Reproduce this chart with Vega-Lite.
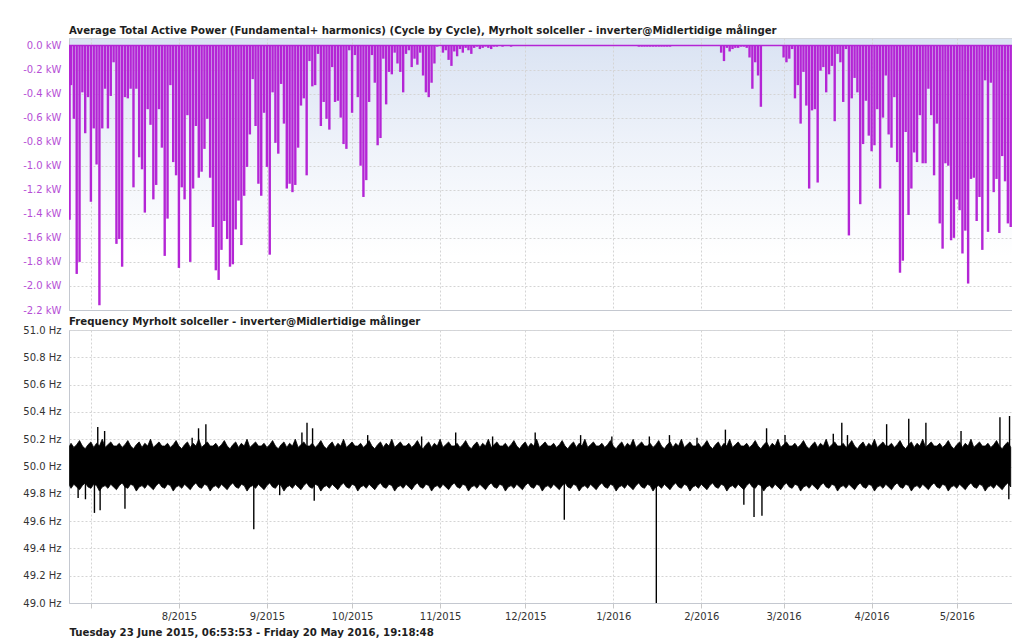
{
"$schema": "https://vega.github.io/schema/vega-lite/v6.json",
"background": "white",
"padding": {"left": 22, "top": 25, "right": 0, "bottom": 2},
"spacing": 0,
"config": {
 "font": "DejaVu Sans",
 "view": {"stroke": "#d3d6dc"},
 "axis": {"labelFont": "DejaVu Sans", "labelFontSize": 10, "labelColor": "#333333", "gridColor": "#d4d4d4", "gridDash": [2, 2], "domainColor": "#c4c8d0", "tickColor": "#c8c8c8", "labelOverlap": false, "labelSeparation": 0},
 "title": {"font": "DejaVu Sans", "fontSize": 10.2, "fontWeight": "bold", "anchor": "start", "color": "#1e1e1e", "baseline": "alphabetic", "frame": "group"}
},
"datasets": {
 "day": [
{"d":"2015-06-23T12:00","p":-1.45,"lo":49.86,"hi":50.15},
{"d":"2015-06-24","p":-0.33,"lo":49.84,"hi":50.17},
{"d":"2015-06-25","p":-0.61,"lo":49.87,"hi":50.14},
{"d":"2015-06-26","p":-1.90,"lo":49.85,"hi":50.16},
{"d":"2015-06-27","p":-1.80,"lo":49.83,"hi":50.19},
{"d":"2015-06-28","p":-0.39,"lo":49.86,"hi":50.15},
{"d":"2015-06-29","p":-0.73,"lo":49.88,"hi":50.13},
{"d":"2015-06-30","p":-0.43,"lo":49.85,"hi":50.16},
{"d":"2015-07-01","p":-1.30,"lo":49.84,"hi":50.18},
{"d":"2015-07-02","p":-0.69,"lo":49.87,"hi":50.14},
{"d":"2015-07-03","p":-0.99,"lo":49.86,"hi":50.17},
{"d":"2015-07-04","p":-2.16,"lo":49.82,"hi":50.15},
{"d":"2015-07-05","p":-0.69,"lo":49.85,"hi":50.20},
{"d":"2015-07-06","p":-0.36,"lo":49.86,"hi":50.14},
{"d":"2015-07-07","p":-0.69,"lo":49.84,"hi":50.16},
{"d":"2015-07-08","p":-0.42,"lo":49.87,"hi":50.18},
{"d":"2015-07-09","p":-0.14,"lo":49.85,"hi":50.15},
{"d":"2015-07-10","p":-1.65,"lo":49.83,"hi":50.15},
{"d":"2015-07-11","p":-1.61,"lo":49.86,"hi":50.17},
{"d":"2015-07-12","p":-1.84,"lo":49.88,"hi":50.14},
{"d":"2015-07-13","p":-0.43,"lo":49.85,"hi":50.16},
{"d":"2015-07-14","p":-0.44,"lo":49.84,"hi":50.19},
{"d":"2015-07-15","p":-0.36,"lo":49.87,"hi":50.15},
{"d":"2015-07-16","p":-1.18,"lo":49.86,"hi":50.13},
{"d":"2015-07-17","p":-0.36,"lo":49.82,"hi":50.16},
{"d":"2015-07-18","p":-0.93,"lo":49.85,"hi":50.18},
{"d":"2015-07-19","p":-1.03,"lo":49.86,"hi":50.14},
{"d":"2015-07-20","p":-1.39,"lo":49.84,"hi":50.17},
{"d":"2015-07-21","p":-0.53,"lo":49.87,"hi":50.15},
{"d":"2015-07-22","p":-0.66,"lo":49.85,"hi":50.20},
{"d":"2015-07-23","p":-1.28,"lo":49.83,"hi":50.14},
{"d":"2015-07-24","p":-1.16,"lo":49.86,"hi":50.16},
{"d":"2015-07-25","p":-0.53,"lo":49.88,"hi":50.18},
{"d":"2015-07-26","p":-0.85,"lo":49.85,"hi":50.15},
{"d":"2015-07-27","p":-1.75,"lo":49.84,"hi":50.15},
{"d":"2015-07-28","p":-1.44,"lo":49.87,"hi":50.17},
{"d":"2015-07-29","p":-0.33,"lo":49.86,"hi":50.14},
{"d":"2015-07-30","p":-0.97,"lo":49.82,"hi":50.16},
{"d":"2015-07-31","p":-1.08,"lo":49.85,"hi":50.19},
{"d":"2015-08-01","p":-1.85,"lo":49.86,"hi":50.15},
{"d":"2015-08-02","p":-1.18,"lo":49.84,"hi":50.13},
{"d":"2015-08-03","p":-1.28,"lo":49.87,"hi":50.16},
{"d":"2015-08-04","p":-0.58,"lo":49.85,"hi":50.18},
{"d":"2015-08-05","p":-1.80,"lo":49.83,"hi":50.14},
{"d":"2015-08-06","p":-1.19,"lo":49.86,"hi":50.17},
{"d":"2015-08-07","p":-0.67,"lo":49.88,"hi":50.15},
{"d":"2015-08-08","p":-1.10,"lo":49.85,"hi":50.20},
{"d":"2015-08-09","p":-1.05,"lo":49.84,"hi":50.14},
{"d":"2015-08-10","p":-0.86,"lo":49.87,"hi":50.16},
{"d":"2015-08-11","p":-0.61,"lo":49.86,"hi":50.18},
{"d":"2015-08-12","p":-1.10,"lo":49.82,"hi":50.15},
{"d":"2015-08-13","p":-1.51,"lo":49.85,"hi":50.15},
{"d":"2015-08-14","p":-1.87,"lo":49.86,"hi":50.17},
{"d":"2015-08-15","p":-1.95,"lo":49.84,"hi":50.14},
{"d":"2015-08-16","p":-1.70,"lo":49.87,"hi":50.16},
{"d":"2015-08-17","p":-1.46,"lo":49.85,"hi":50.19},
{"d":"2015-08-18","p":-1.61,"lo":49.83,"hi":50.15},
{"d":"2015-08-19","p":-1.84,"lo":49.86,"hi":50.13},
{"d":"2015-08-20","p":-1.82,"lo":49.88,"hi":50.16},
{"d":"2015-08-21","p":-1.53,"lo":49.85,"hi":50.18},
{"d":"2015-08-22","p":-1.29,"lo":49.84,"hi":50.14},
{"d":"2015-08-23","p":-1.66,"lo":49.87,"hi":50.17},
{"d":"2015-08-24","p":-1.25,"lo":49.86,"hi":50.15},
{"d":"2015-08-25","p":-1.01,"lo":49.82,"hi":50.20},
{"d":"2015-08-26","p":-0.74,"lo":49.85,"hi":50.14},
{"d":"2015-08-27","p":-0.28,"lo":49.86,"hi":50.16},
{"d":"2015-08-28","p":-0.67,"lo":49.84,"hi":50.18},
{"d":"2015-08-29","p":-1.15,"lo":49.87,"hi":50.15},
{"d":"2015-08-30","p":-1.25,"lo":49.85,"hi":50.15},
{"d":"2015-08-31","p":-0.56,"lo":49.83,"hi":50.17},
{"d":"2015-09-01","p":-1.01,"lo":49.86,"hi":50.14},
{"d":"2015-09-02","p":-1.74,"lo":49.88,"hi":50.16},
{"d":"2015-09-03","p":-0.39,"lo":49.85,"hi":50.19},
{"d":"2015-09-04","p":-0.81,"lo":49.84,"hi":50.15},
{"d":"2015-09-05","p":-0.90,"lo":49.87,"hi":50.13},
{"d":"2015-09-06","p":-0.32,"lo":49.86,"hi":50.16},
{"d":"2015-09-07","p":-0.65,"lo":49.82,"hi":50.18},
{"d":"2015-09-08","p":-1.19,"lo":49.85,"hi":50.14},
{"d":"2015-09-09","p":-1.15,"lo":49.86,"hi":50.17},
{"d":"2015-09-10","p":-1.22,"lo":49.84,"hi":50.15},
{"d":"2015-09-11","p":-1.16,"lo":49.87,"hi":50.20},
{"d":"2015-09-12","p":-0.85,"lo":49.85,"hi":50.14},
{"d":"2015-09-13","p":-0.50,"lo":49.83,"hi":50.16},
{"d":"2015-09-14","p":-0.44,"lo":49.86,"hi":50.18},
{"d":"2015-09-15","p":-1.08,"lo":49.88,"hi":50.15},
{"d":"2015-09-16","p":-0.13,"lo":49.85,"hi":50.15},
{"d":"2015-09-17","p":-0.34,"lo":49.84,"hi":50.17},
{"d":"2015-09-18","p":-0.33,"lo":49.87,"hi":50.14},
{"d":"2015-09-19","p":-0.07,"lo":49.86,"hi":50.16},
{"d":"2015-09-20","p":-0.67,"lo":49.82,"hi":50.19},
{"d":"2015-09-21","p":-0.47,"lo":49.85,"hi":50.15},
{"d":"2015-09-22","p":-0.61,"lo":49.86,"hi":50.13},
{"d":"2015-09-23","p":-0.70,"lo":49.84,"hi":50.16},
{"d":"2015-09-24","p":-0.18,"lo":49.87,"hi":50.18},
{"d":"2015-09-25","p":-0.47,"lo":49.85,"hi":50.14},
{"d":"2015-09-26","p":-0.46,"lo":49.83,"hi":50.17},
{"d":"2015-09-27","p":-0.60,"lo":49.86,"hi":50.15},
{"d":"2015-09-28","p":-0.82,"lo":49.88,"hi":50.20},
{"d":"2015-09-29","p":-0.86,"lo":49.85,"hi":50.14},
{"d":"2015-09-30","p":-0.04,"lo":49.84,"hi":50.16},
{"d":"2015-10-01","p":-0.56,"lo":49.87,"hi":50.18},
{"d":"2015-10-02","p":-0.08,"lo":49.86,"hi":50.15},
{"d":"2015-10-03","p":-0.43,"lo":49.82,"hi":50.15},
{"d":"2015-10-04","p":-1.00,"lo":49.85,"hi":50.17},
{"d":"2015-10-05","p":-1.26,"lo":49.86,"hi":50.14},
{"d":"2015-10-06","p":-1.12,"lo":49.84,"hi":50.16},
{"d":"2015-10-07","p":-0.47,"lo":49.87,"hi":50.19},
{"d":"2015-10-08","p":-0.08,"lo":49.85,"hi":50.15},
{"d":"2015-10-09","p":-0.31,"lo":49.83,"hi":50.13},
{"d":"2015-10-10","p":-0.83,"lo":49.86,"hi":50.16},
{"d":"2015-10-11","p":-0.77,"lo":49.88,"hi":50.18},
{"d":"2015-10-12","p":-0.11,"lo":49.85,"hi":50.14},
{"d":"2015-10-13","p":-0.49,"lo":49.84,"hi":50.17},
{"d":"2015-10-14","p":-0.22,"lo":49.87,"hi":50.15},
{"d":"2015-10-15","p":-0.24,"lo":49.86,"hi":50.20},
{"d":"2015-10-16","p":-0.06,"lo":49.82,"hi":50.14},
{"d":"2015-10-17","p":-0.15,"lo":49.85,"hi":50.16},
{"d":"2015-10-18","p":-0.22,"lo":49.86,"hi":50.18},
{"d":"2015-10-19","p":-0.39,"lo":49.84,"hi":50.15},
{"d":"2015-10-20","p":-0.07,"lo":49.87,"hi":50.15},
{"d":"2015-10-21","p":-0.04,"lo":49.85,"hi":50.17},
{"d":"2015-10-22","p":-0.18,"lo":49.83,"hi":50.14},
{"d":"2015-10-23","p":-0.11,"lo":49.86,"hi":50.16},
{"d":"2015-10-24","p":-0.16,"lo":49.88,"hi":50.19},
{"d":"2015-10-25","p":-0.06,"lo":49.85,"hi":50.15},
{"d":"2015-10-26","p":-0.25,"lo":49.84,"hi":50.13},
{"d":"2015-10-27","p":-0.39,"lo":49.87,"hi":50.16},
{"d":"2015-10-28","p":-0.43,"lo":49.86,"hi":50.18},
{"d":"2015-10-29","p":-0.31,"lo":49.82,"hi":50.14},
{"d":"2015-10-30","p":-0.15,"lo":49.85,"hi":50.17},
{"d":"2015-10-31","p":-0.01,"lo":49.86,"hi":50.15},
{"d":"2015-11-01","p":0,"lo":49.84,"hi":50.20},
{"d":"2015-11-02","p":-0.06,"lo":49.87,"hi":50.14},
{"d":"2015-11-03","p":-0.04,"lo":49.85,"hi":50.16},
{"d":"2015-11-04","p":-0.12,"lo":49.83,"hi":50.18},
{"d":"2015-11-05","p":-0.17,"lo":49.86,"hi":50.15},
{"d":"2015-11-06","p":-0.05,"lo":49.88,"hi":50.15},
{"d":"2015-11-07","p":-0.09,"lo":49.85,"hi":50.17},
{"d":"2015-11-08","p":-0.03,"lo":49.84,"hi":50.14},
{"d":"2015-11-09","p":-0.06,"lo":49.87,"hi":50.16},
{"d":"2015-11-10","p":-0.02,"lo":49.86,"hi":50.19},
{"d":"2015-11-11","p":-0.04,"lo":49.82,"hi":50.15},
{"d":"2015-11-12","p":-0.07,"lo":49.85,"hi":50.13},
{"d":"2015-11-13","p":-0.02,"lo":49.86,"hi":50.16},
{"d":"2015-11-14","p":-0.01,"lo":49.84,"hi":50.18},
{"d":"2015-11-15","p":-0.03,"lo":49.87,"hi":50.14},
{"d":"2015-11-16","p":-0.02,"lo":49.85,"hi":50.17},
{"d":"2015-11-17","p":-0.01,"lo":49.83,"hi":50.15},
{"d":"2015-11-18","p":-0.02,"lo":49.86,"hi":50.20},
{"d":"2015-11-19","p":-0.03,"lo":49.88,"hi":50.14},
{"d":"2015-11-20","p":-0.01,"lo":49.85,"hi":50.16},
{"d":"2015-11-21","p":-0.01,"lo":49.84,"hi":50.18},
{"d":"2015-11-22","p":0,"lo":49.87,"hi":50.15},
{"d":"2015-11-23","p":-0.01,"lo":49.86,"hi":50.15},
{"d":"2015-11-24","p":0,"lo":49.82,"hi":50.17},
{"d":"2015-11-25","p":0,"lo":49.85,"hi":50.14},
{"d":"2015-11-26","p":-0.01,"lo":49.86,"hi":50.16},
{"d":"2015-11-27","p":0,"lo":49.84,"hi":50.19},
{"d":"2015-11-28","p":0,"lo":49.87,"hi":50.15},
{"d":"2015-11-29","p":0,"lo":49.85,"hi":50.13},
{"d":"2015-11-30","p":0,"lo":49.83,"hi":50.16},
{"d":"2015-12-01","p":0,"lo":49.86,"hi":50.18},
{"d":"2015-12-02","p":0,"lo":49.88,"hi":50.14},
{"d":"2015-12-03","p":0,"lo":49.85,"hi":50.17},
{"d":"2015-12-04","p":0,"lo":49.84,"hi":50.15},
{"d":"2015-12-05","p":0,"lo":49.87,"hi":50.20},
{"d":"2015-12-06","p":0,"lo":49.86,"hi":50.14},
{"d":"2015-12-07","p":0,"lo":49.82,"hi":50.16},
{"d":"2015-12-08","p":0,"lo":49.85,"hi":50.18},
{"d":"2015-12-09","p":0,"lo":49.86,"hi":50.15},
{"d":"2015-12-10","p":0,"lo":49.84,"hi":50.15},
{"d":"2015-12-11","p":0,"lo":49.87,"hi":50.17},
{"d":"2015-12-12","p":0,"lo":49.85,"hi":50.14},
{"d":"2015-12-13","p":0,"lo":49.83,"hi":50.16},
{"d":"2015-12-14","p":0,"lo":49.86,"hi":50.19},
{"d":"2015-12-15","p":0,"lo":49.88,"hi":50.15},
{"d":"2015-12-16","p":0,"lo":49.85,"hi":50.13},
{"d":"2015-12-17","p":0,"lo":49.84,"hi":50.16},
{"d":"2015-12-18","p":0,"lo":49.87,"hi":50.18},
{"d":"2015-12-19","p":0,"lo":49.86,"hi":50.14},
{"d":"2015-12-20","p":0,"lo":49.82,"hi":50.17},
{"d":"2015-12-21","p":0,"lo":49.85,"hi":50.15},
{"d":"2015-12-22","p":0,"lo":49.86,"hi":50.20},
{"d":"2015-12-23","p":0,"lo":49.84,"hi":50.14},
{"d":"2015-12-24","p":0,"lo":49.87,"hi":50.16},
{"d":"2015-12-25","p":0,"lo":49.85,"hi":50.18},
{"d":"2015-12-26","p":0,"lo":49.83,"hi":50.15},
{"d":"2015-12-27","p":0,"lo":49.86,"hi":50.15},
{"d":"2015-12-28","p":0,"lo":49.88,"hi":50.17},
{"d":"2015-12-29","p":0,"lo":49.85,"hi":50.14},
{"d":"2015-12-30","p":0,"lo":49.84,"hi":50.16},
{"d":"2015-12-31","p":0,"lo":49.87,"hi":50.19},
{"d":"2016-01-01","p":0,"lo":49.86,"hi":50.15},
{"d":"2016-01-02","p":0,"lo":49.82,"hi":50.13},
{"d":"2016-01-03","p":0,"lo":49.85,"hi":50.16},
{"d":"2016-01-04","p":0,"lo":49.86,"hi":50.18},
{"d":"2016-01-05","p":0,"lo":49.84,"hi":50.14},
{"d":"2016-01-06","p":0,"lo":49.87,"hi":50.17},
{"d":"2016-01-07","p":0,"lo":49.85,"hi":50.15},
{"d":"2016-01-08","p":0,"lo":49.83,"hi":50.20},
{"d":"2016-01-09","p":0,"lo":49.86,"hi":50.14},
{"d":"2016-01-10","p":-0.01,"lo":49.88,"hi":50.16},
{"d":"2016-01-11","p":-0.01,"lo":49.85,"hi":50.18},
{"d":"2016-01-12","p":-0.01,"lo":49.84,"hi":50.15},
{"d":"2016-01-13","p":-0.01,"lo":49.87,"hi":50.15},
{"d":"2016-01-14","p":-0.01,"lo":49.86,"hi":50.17},
{"d":"2016-01-15","p":-0.01,"lo":49.82,"hi":50.14},
{"d":"2016-01-16","p":-0.01,"lo":49.85,"hi":50.16},
{"d":"2016-01-17","p":-0.01,"lo":49.86,"hi":50.19},
{"d":"2016-01-18","p":-0.01,"lo":49.84,"hi":50.15},
{"d":"2016-01-19","p":-0.01,"lo":49.87,"hi":50.13},
{"d":"2016-01-20","p":-0.01,"lo":49.85,"hi":50.16},
{"d":"2016-01-21","p":-0.01,"lo":49.83,"hi":50.18},
{"d":"2016-01-22","p":0,"lo":49.86,"hi":50.14},
{"d":"2016-01-23","p":0,"lo":49.88,"hi":50.17},
{"d":"2016-01-24","p":0,"lo":49.85,"hi":50.15},
{"d":"2016-01-25","p":0,"lo":49.84,"hi":50.20},
{"d":"2016-01-26","p":0,"lo":49.87,"hi":50.14},
{"d":"2016-01-27","p":0,"lo":49.86,"hi":50.16},
{"d":"2016-01-28","p":0,"lo":49.82,"hi":50.18},
{"d":"2016-01-29","p":0,"lo":49.85,"hi":50.15},
{"d":"2016-01-30","p":0,"lo":49.86,"hi":50.15},
{"d":"2016-01-31","p":0,"lo":49.84,"hi":50.17},
{"d":"2016-02-01","p":0,"lo":49.87,"hi":50.14},
{"d":"2016-02-02","p":0,"lo":49.85,"hi":50.16},
{"d":"2016-02-03","p":0,"lo":49.83,"hi":50.19},
{"d":"2016-02-04","p":0,"lo":49.86,"hi":50.15},
{"d":"2016-02-05","p":0,"lo":49.88,"hi":50.13},
{"d":"2016-02-06","p":0,"lo":49.85,"hi":50.16},
{"d":"2016-02-07","p":0,"lo":49.84,"hi":50.18},
{"d":"2016-02-08","p":-0.06,"lo":49.87,"hi":50.14},
{"d":"2016-02-09","p":-0.13,"lo":49.86,"hi":50.17},
{"d":"2016-02-10","p":-0.02,"lo":49.82,"hi":50.15},
{"d":"2016-02-11","p":-0.05,"lo":49.85,"hi":50.20},
{"d":"2016-02-12","p":-0.03,"lo":49.86,"hi":50.14},
{"d":"2016-02-13","p":-0.02,"lo":49.84,"hi":50.16},
{"d":"2016-02-14","p":-0.02,"lo":49.87,"hi":50.18},
{"d":"2016-02-15","p":-0.01,"lo":49.85,"hi":50.15},
{"d":"2016-02-16","p":-0.01,"lo":49.83,"hi":50.15},
{"d":"2016-02-17","p":-0.02,"lo":49.86,"hi":50.17},
{"d":"2016-02-18","p":-0.10,"lo":49.88,"hi":50.14},
{"d":"2016-02-19","p":-0.36,"lo":49.85,"hi":50.16},
{"d":"2016-02-20","p":-0.14,"lo":49.84,"hi":50.19},
{"d":"2016-02-21","p":-0.25,"lo":49.87,"hi":50.15},
{"d":"2016-02-22","p":-0.51,"lo":49.86,"hi":50.13},
{"d":"2016-02-23","p":0,"lo":49.82,"hi":50.16},
{"d":"2016-02-24","p":0,"lo":49.85,"hi":50.18},
{"d":"2016-02-25","p":0,"lo":49.86,"hi":50.14},
{"d":"2016-02-26","p":0,"lo":49.84,"hi":50.17},
{"d":"2016-02-27","p":0,"lo":49.87,"hi":50.15},
{"d":"2016-02-28","p":0,"lo":49.85,"hi":50.20},
{"d":"2016-02-29","p":0,"lo":49.83,"hi":50.14},
{"d":"2016-03-01","p":-0.10,"lo":49.86,"hi":50.16},
{"d":"2016-03-02","p":-0.14,"lo":49.88,"hi":50.18},
{"d":"2016-03-03","p":-0.11,"lo":49.85,"hi":50.15},
{"d":"2016-03-04","p":-0.03,"lo":49.84,"hi":50.15},
{"d":"2016-03-05","p":-0.44,"lo":49.87,"hi":50.17},
{"d":"2016-03-06","p":-0.33,"lo":49.86,"hi":50.14},
{"d":"2016-03-07","p":-0.65,"lo":49.82,"hi":50.16},
{"d":"2016-03-08","p":-0.22,"lo":49.85,"hi":50.19},
{"d":"2016-03-09","p":-0.50,"lo":49.86,"hi":50.15},
{"d":"2016-03-10","p":-1.19,"lo":49.84,"hi":50.13},
{"d":"2016-03-11","p":-0.54,"lo":49.87,"hi":50.16},
{"d":"2016-03-12","p":-0.53,"lo":49.85,"hi":50.18},
{"d":"2016-03-13","p":-1.14,"lo":49.83,"hi":50.14},
{"d":"2016-03-14","p":-0.21,"lo":49.86,"hi":50.17},
{"d":"2016-03-15","p":-0.18,"lo":49.88,"hi":50.15},
{"d":"2016-03-16","p":-0.39,"lo":49.85,"hi":50.20},
{"d":"2016-03-17","p":-0.24,"lo":49.84,"hi":50.14},
{"d":"2016-03-18","p":-0.17,"lo":49.87,"hi":50.16},
{"d":"2016-03-19","p":-0.63,"lo":49.86,"hi":50.18},
{"d":"2016-03-20","p":-0.07,"lo":49.82,"hi":50.15},
{"d":"2016-03-21","p":-0.14,"lo":49.85,"hi":50.15},
{"d":"2016-03-22","p":-0.47,"lo":49.86,"hi":50.17},
{"d":"2016-03-23","p":-0.03,"lo":49.84,"hi":50.14},
{"d":"2016-03-24","p":-1.58,"lo":49.87,"hi":50.16},
{"d":"2016-03-25","p":-0.44,"lo":49.85,"hi":50.19},
{"d":"2016-03-26","p":-0.27,"lo":49.83,"hi":50.15},
{"d":"2016-03-27","p":-0.39,"lo":49.86,"hi":50.13},
{"d":"2016-03-28","p":-1.32,"lo":49.88,"hi":50.16},
{"d":"2016-03-29","p":-0.82,"lo":49.85,"hi":50.18},
{"d":"2016-03-30","p":-0.46,"lo":49.84,"hi":50.14},
{"d":"2016-03-31","p":-0.75,"lo":49.87,"hi":50.17},
{"d":"2016-04-01","p":-0.88,"lo":49.86,"hi":50.15},
{"d":"2016-04-02","p":-0.83,"lo":49.82,"hi":50.20},
{"d":"2016-04-03","p":-0.53,"lo":49.85,"hi":50.14},
{"d":"2016-04-04","p":-1.19,"lo":49.86,"hi":50.16},
{"d":"2016-04-05","p":-0.60,"lo":49.84,"hi":50.18},
{"d":"2016-04-06","p":-0.25,"lo":49.87,"hi":50.15},
{"d":"2016-04-07","p":-0.74,"lo":49.85,"hi":50.15},
{"d":"2016-04-08","p":-0.85,"lo":49.83,"hi":50.17},
{"d":"2016-04-09","p":-0.43,"lo":49.86,"hi":50.14},
{"d":"2016-04-10","p":-0.97,"lo":49.88,"hi":50.16},
{"d":"2016-04-11","p":-1.89,"lo":49.85,"hi":50.19},
{"d":"2016-04-12","p":-1.79,"lo":49.84,"hi":50.15},
{"d":"2016-04-13","p":-0.72,"lo":49.87,"hi":50.13},
{"d":"2016-04-14","p":-1.41,"lo":49.86,"hi":50.16},
{"d":"2016-04-15","p":-1.19,"lo":49.82,"hi":50.18},
{"d":"2016-04-16","p":-0.89,"lo":49.85,"hi":50.14},
{"d":"2016-04-17","p":-0.97,"lo":49.86,"hi":50.17},
{"d":"2016-04-18","p":-0.58,"lo":49.84,"hi":50.15},
{"d":"2016-04-19","p":-0.98,"lo":49.87,"hi":50.20},
{"d":"2016-04-20","p":-0.98,"lo":49.85,"hi":50.14},
{"d":"2016-04-21","p":-0.36,"lo":49.83,"hi":50.16},
{"d":"2016-04-22","p":-0.58,"lo":49.86,"hi":50.18},
{"d":"2016-04-23","p":-1.08,"lo":49.88,"hi":50.15},
{"d":"2016-04-24","p":-0.65,"lo":49.85,"hi":50.15},
{"d":"2016-04-25","p":-1.48,"lo":49.84,"hi":50.17},
{"d":"2016-04-26","p":-1.69,"lo":49.87,"hi":50.14},
{"d":"2016-04-27","p":-0.98,"lo":49.86,"hi":50.16},
{"d":"2016-04-28","p":-1.00,"lo":49.82,"hi":50.19},
{"d":"2016-04-29","p":-1.62,"lo":49.85,"hi":50.15},
{"d":"2016-04-30","p":-1.60,"lo":49.86,"hi":50.13},
{"d":"2016-05-01","p":-1.28,"lo":49.84,"hi":50.16},
{"d":"2016-05-02","p":-1.37,"lo":49.87,"hi":50.18},
{"d":"2016-05-03","p":-1.73,"lo":49.85,"hi":50.14},
{"d":"2016-05-04","p":-1.54,"lo":49.83,"hi":50.17},
{"d":"2016-05-05","p":-1.98,"lo":49.86,"hi":50.15},
{"d":"2016-05-06","p":-1.11,"lo":49.88,"hi":50.20},
{"d":"2016-05-07","p":-1.10,"lo":49.85,"hi":50.14},
{"d":"2016-05-08","p":-1.46,"lo":49.84,"hi":50.16},
{"d":"2016-05-09","p":-1.26,"lo":49.87,"hi":50.18},
{"d":"2016-05-10","p":-1.70,"lo":49.86,"hi":50.15},
{"d":"2016-05-11","p":-0.29,"lo":49.82,"hi":50.15},
{"d":"2016-05-12","p":-1.55,"lo":49.85,"hi":50.17},
{"d":"2016-05-13","p":-0.31,"lo":49.86,"hi":50.14},
{"d":"2016-05-14","p":-1.22,"lo":49.84,"hi":50.16},
{"d":"2016-05-15","p":-1.11,"lo":49.87,"hi":50.19},
{"d":"2016-05-16","p":-1.56,"lo":49.85,"hi":50.15},
{"d":"2016-05-17","p":-0.92,"lo":49.83,"hi":50.13},
{"d":"2016-05-18","p":-1.13,"lo":49.86,"hi":50.16},
{"d":"2016-05-19","p":-1.48,"lo":49.88,"hi":50.18},
{"d":"2016-05-20","p":-1.51,"lo":49.85,"hi":50.14}
 ],
 "spk": [
{"t":"2015-06-26T12:00","f":49.77},
{"t":"2015-06-29T02:00","f":49.76},
{"t":"2015-07-02T06:00","f":49.66},
{"t":"2015-07-03T10:00","f":50.29},
{"t":"2015-07-04T06:00","f":49.68},
{"t":"2015-07-05T20:00","f":50.26},
{"t":"2015-07-13T00:00","f":49.69},
{"t":"2015-08-05T16:00","f":50.21},
{"t":"2015-08-07T22:00","f":50.28},
{"t":"2015-08-10T12:00","f":50.31},
{"t":"2015-08-27T09:00","f":49.54},
{"t":"2015-09-05T12:00","f":49.79},
{"t":"2015-09-13T08:00","f":50.25},
{"t":"2015-09-15T03:00","f":50.32},
{"t":"2015-09-17T02:00","f":50.28},
{"t":"2015-09-17T16:00","f":49.75},
{"t":"2015-10-06T12:00","f":50.23},
{"t":"2015-10-25T12:00","f":50.22},
{"t":"2015-11-06T12:00","f":50.25},
{"t":"2015-11-19T12:00","f":50.22},
{"t":"2015-12-04T12:00","f":50.25},
{"t":"2015-12-14T18:00","f":49.61},
{"t":"2015-12-20T12:00","f":50.23},
{"t":"2015-12-31T12:00","f":50.22},
{"t":"2016-01-13T17:00","f":50.22},
{"t":"2016-01-16T04:00","f":49.00},
{"t":"2016-01-20T19:00","f":50.23},
{"t":"2016-01-30T12:00","f":50.21},
{"t":"2016-02-09T12:00","f":50.27},
{"t":"2016-02-16T00:00","f":49.72},
{"t":"2016-02-19T14:00","f":49.63},
{"t":"2016-02-22T09:00","f":49.64},
{"t":"2016-02-24T00:00","f":50.28},
{"t":"2016-03-01T12:00","f":50.23},
{"t":"2016-03-18T12:00","f":50.24},
{"t":"2016-03-21T12:00","f":50.32},
{"t":"2016-03-23T12:00","f":50.23},
{"t":"2016-04-06T07:00","f":50.31},
{"t":"2016-04-14T02:00","f":50.35},
{"t":"2016-04-20T03:00","f":50.32},
{"t":"2016-05-02T12:00","f":50.26},
{"t":"2016-05-16T05:00","f":50.36},
{"t":"2016-05-19T08:00","f":49.76},
{"t":"2016-05-19T14:00","f":50.37}
 ]
},
"vconcat": [
 {
  "title": {"text": "Average Total Active Power  (Fundamental+ harmonics) (Cycle by Cycle), Myrholt solceller - inverter@Midlertidige målinger", "offset": 2},
  "width": 944,
  "height": 272,
  "view": {"fill": {"gradient": "linear", "x1": 0, "y1": 0, "x2": 0, "y2": 1, "stops": [{"offset": 0, "color": "#dae3f3"}, {"offset": 0.4, "color": "#eff3fa"}, {"offset": 0.8, "color": "#ffffff"}, {"offset": 1, "color": "#ffffff"}]}, "stroke": "#d3d6dc"},
  "layer": [
   {
    "data": {"name": "day"},
    "mark": {"type": "rule", "color": "#b425d5", "strokeWidth": 2.4, "clip": true},
    "encoding": {
     "x": {"field": "d", "type": "temporal",
       "scale": {"domain": [{"year": 2015, "month": 6, "date": 23, "hours": 6, "minutes": 53, "seconds": 53}, {"year": 2016, "month": 5, "date": 20, "hours": 19, "minutes": 18, "seconds": 48}]},
       "axis": {"title": null, "labels": false, "ticks": false, "tickCount": {"interval": "month", "step": 1}, "domainColor": "#c4c8d0"}},
     "y": {"field": "p", "type": "quantitative",
       "scale": {"domain": [-2.2, 0.062], "nice": false, "zero": false},
       "axis": {"title": null, "tickCount": 12, "labelExpr": "replace(format(datum.value, '.1f'), '−', '-') + ' kW'", "labelColor": "#b64fd6", "labelOverlap": false, "labelSeparation": 0, "ticks": false, "labelPadding": 8}},
     "y2": {"datum": 0}
    }
   },
   {
    "data": {"values": [{}]},
    "mark": {"type": "rule", "color": "#b425d5", "strokeWidth": 1.5},
    "encoding": {"y": {"datum": 0}}
   }
  ]
 },
 {
  "title": {"text": "Frequency Myrholt solceller - inverter@Midlertidige målinger", "offset": -2.5},
  "width": 944,
  "height": 273,
  "view": {"fill": "white", "stroke": "#d3d6dc"},
  "layer": [
   {
    "data": {"name": "day"},
    "mark": {"type": "area", "color": "black", "stroke": "black", "strokeWidth": 0.8, "clip": true},
    "encoding": {
     "x": {"field": "d", "type": "temporal",
       "scale": {"domain": [{"year": 2015, "month": 6, "date": 23, "hours": 6, "minutes": 53, "seconds": 53}, {"year": 2016, "month": 5, "date": 20, "hours": 19, "minutes": 18, "seconds": 48}]},
       "axis": {"title": "Tuesday 23 June 2015, 06:53:53 - Friday 20 May 2016, 19:18:48", "titleFont": "DejaVu Sans", "titleFontSize": 10.2, "titleFontWeight": "bold", "titleColor": "#1e1e1e", "titleAnchor": "start", "titleAlign": "left", "titlePadding": 6,
         "tickCount": {"interval": "month", "step": 1}, "tickSize": 5, "labelPadding": 3,
         "labelExpr": "(year(datum.value) == 2015 && month(datum.value) == 6) ? '' : timeFormat(datum.value, '%-m/%Y')"}},
     "y": {"field": "lo", "type": "quantitative",
       "scale": {"domain": [49, 51], "nice": false, "zero": false},
       "axis": {"title": null, "tickCount": 10, "labelExpr": "format(datum.value, '.1f') + ' Hz'", "labelOverlap": false, "labelSeparation": 0, "ticks": false, "labelPadding": 8}},
     "y2": {"field": "hi"}
    }
   },
   {
    "data": {"name": "spk"},
    "mark": {"type": "rule", "color": "black", "strokeWidth": 1.4, "clip": true},
    "encoding": {
     "x": {"field": "t", "type": "temporal"},
     "y": {"field": "f", "type": "quantitative"},
     "y2": {"datum": 50.0}
    }
   }
  ]
 }
]
}
